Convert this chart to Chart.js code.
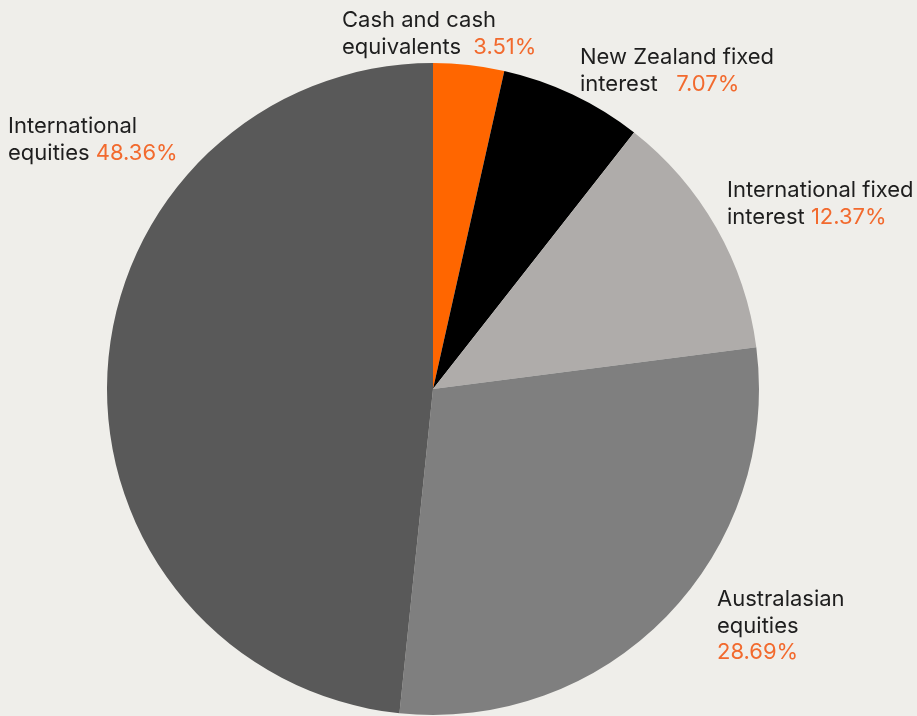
<!DOCTYPE html>
<html lang="en">
  <head>
    <meta charset="UTF-8" />
    <title>Asset allocation</title>
    <script src="https://cdn.jsdelivr.net/npm/chart.js@4.4.0/dist/chart.umd.min.js"></script>
    <style>
      html, body { margin: 0; padding: 0; background: #efeeea; }
      #wrap { width: 917px; height: 716px; }
    </style>
  </head>
  <body>
    <div id="wrap"><canvas id="chart" width="917" height="716"></canvas></div>

    <script>
      //data
      const categories = [
        'Cash and cash equivalents',
        'New Zealand fixed interest',
        'International fixed interest',
        'Australasian equities',
        'International equities'
      ];
      const shares = [3.51, 7.07, 12.37, 28.69, 48.36];
      const sliceColors = ['#ff6600', '#000000', '#afacaa', '#7f7f7f', '#595959'];

      // label text lines; the value is appended in orange to the last line
      const labelLines = [
        ['Cash and cash', 'equivalents  '],
        ['New Zealand fixed', 'interest   '],
        ['International fixed', 'interest '],
        ['Australasian', 'equities', ''],
        ['International', 'equities ']
      ];
      const labelPos = [
        { x: 342, y: 27 },
        { x: 580, y: 64 },
        { x: 727, y: 197 },
        { x: 717, y: 606 },
        { x: 8, y: 133 }
      ];

      const FONT = '400 22px Inter, "Noto Sans", sans-serif';

      const labelPlugin = {
        id: 'sliceLabels',
        afterDraw(chart) {
          const ctx = chart.ctx;
          ctx.save();
          ctx.font = FONT;
          ctx.textBaseline = 'alphabetic';
          ctx.textAlign = 'left';
          labelLines.forEach((lines, i) => {
            const p = labelPos[i];
            lines.forEach((line, j) => {
              const y = p.y + j * 26.5;
              ctx.fillStyle = '#1e1e1e';
              ctx.fillText(line, p.x, y);
              if (j === lines.length - 1) {
                const w = ctx.measureText(line).width;
                ctx.fillStyle = '#f26a2e';
                ctx.fillText(shares[i].toFixed(2) + '%', p.x + w, y);
              }
            });
          });
          ctx.restore();
        }
      };

      //config
      const config = {
        type: 'pie',
        data: {
          labels: categories,
          datasets: [
            {
              data: shares,
              backgroundColor: sliceColors,
              borderWidth: 0
            }
          ]
        },
        options: {
          responsive: false,
          animation: false,
          layout: {
            padding: { top: 63, bottom: 1, left: 107, right: 158 }
          },
          plugins: {
            legend: { display: false },
            tooltip: { enabled: false }
          }
        },
        plugins: [labelPlugin]
      };

      //init
      const ctx = document.getElementById('chart');
      const chart = new Chart(ctx, config);
    </script>
  </body>
</html>
